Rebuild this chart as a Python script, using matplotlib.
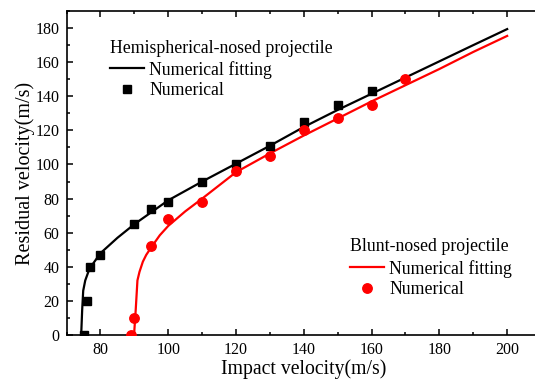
import matplotlib
matplotlib.use("Agg")
import matplotlib.pyplot as plt
from matplotlib.ticker import MultipleLocator

plt.rcParams['font.family'] = ['Liberation Serif', 'DejaVu Serif']
plt.rcParams['mathtext.fontset'] = 'stix'

# Hemispherical-nosed projectile: simulated points and fitted curve
hemi_vi = [75, 76, 77, 80, 90, 95, 100, 110, 120, 130, 140, 150, 160]
hemi_vr = [0, 20, 40, 47, 65, 74, 78, 90, 100, 111, 125, 135, 143]
hemi_fit_vi = [74.3, 74.6, 74.9, 75.5, 76.5, 77.5, 80, 85, 90, 95, 100, 110,
               120, 130, 140, 150, 160, 170, 180, 190, 200]
hemi_fit_vr = [0, 15, 26, 32, 37.5, 41, 48, 57, 65, 72, 79, 90,
               100.5, 111, 122, 132, 141.5, 151, 160.5, 170, 179.4]

# Blunt-nosed projectile: simulated points and fitted curve
blunt_vi = [89, 90, 95, 100, 110, 120, 130, 140, 150, 160, 170]
blunt_vr = [0, 10, 52, 68, 78, 96, 105, 120, 127, 135, 150]
blunt_fit_vi = [89.9, 90.4, 90.9, 91.5, 92.5, 93.5, 95, 97.5, 100, 105, 110,
                120, 130, 140, 150, 160, 170, 180, 190, 200]
blunt_fit_vr = [0, 15, 32, 37, 43, 47, 51.5, 58.5, 64, 72.5, 80,
                95.5, 106.5, 117, 127, 137, 146.5, 156, 166, 175.4]

fig = plt.figure(figsize=(5.35, 3.8), dpi=100)
ax = fig.add_axes([0.1245, 0.1184, 0.8868, 0.8526])

l1, = ax.plot(hemi_fit_vi, hemi_fit_vr, color='black', lw=1.6, zorder=2)
m1, = ax.plot(hemi_vi, hemi_vr, ls='none', marker='s', ms=6.2,
              color='black', zorder=3)
l2, = ax.plot(blunt_fit_vi, blunt_fit_vr, color='red', lw=1.6, zorder=2)
m2, = ax.plot(blunt_vi, blunt_vr, ls='none', marker='o', ms=6.8,
              color='red', zorder=3)

ax.set_xlim(70, 210)
ax.set_ylim(0, 190)
ax.xaxis.set_major_locator(MultipleLocator(20))
ax.xaxis.set_minor_locator(MultipleLocator(10))
ax.yaxis.set_major_locator(MultipleLocator(20))
ax.yaxis.set_minor_locator(MultipleLocator(10))
ax.tick_params(which='both', direction='in', top=True, right=False,
               labelsize=11.5, width=1.1, pad=5)
ax.tick_params(which='major', length=4.5)
ax.tick_params(which='minor', length=2.5)
for s in ax.spines.values():
    s.set_linewidth(1.2)

ax.set_xlabel('Impact velocity(m/s)', fontsize=14.2, labelpad=1)
ax.set_ylabel('Residual velocity(m/s)', fontsize=14.5)
ax.yaxis.set_label_coords(-0.067, 0.5)

leg_kw = dict(frameon=False, fontsize=12.8, title_fontsize=12.8,
              handlelength=1.9, handletextpad=0.3, labelspacing=0.22,
              borderpad=0, borderaxespad=0, alignment='left',
              loc='upper left')
leg1 = ax.legend([l1, m1], ['Numerical fitting', 'Numerical'],
                 title='Hemispherical-nosed projectile',
                 bbox_to_anchor=(0.092, 0.912), **leg_kw)
leg1._legend_box.sep = 3
ax.add_artist(leg1)
leg2 = ax.legend([l2, m2], ['Numerical fitting', 'Numerical'],
                 title='Blunt-nosed projectile',
                 bbox_to_anchor=(0.598, 0.298), **leg_kw)
leg2._legend_box.sep = 3

fig.savefig('out.png', dpi=100)
